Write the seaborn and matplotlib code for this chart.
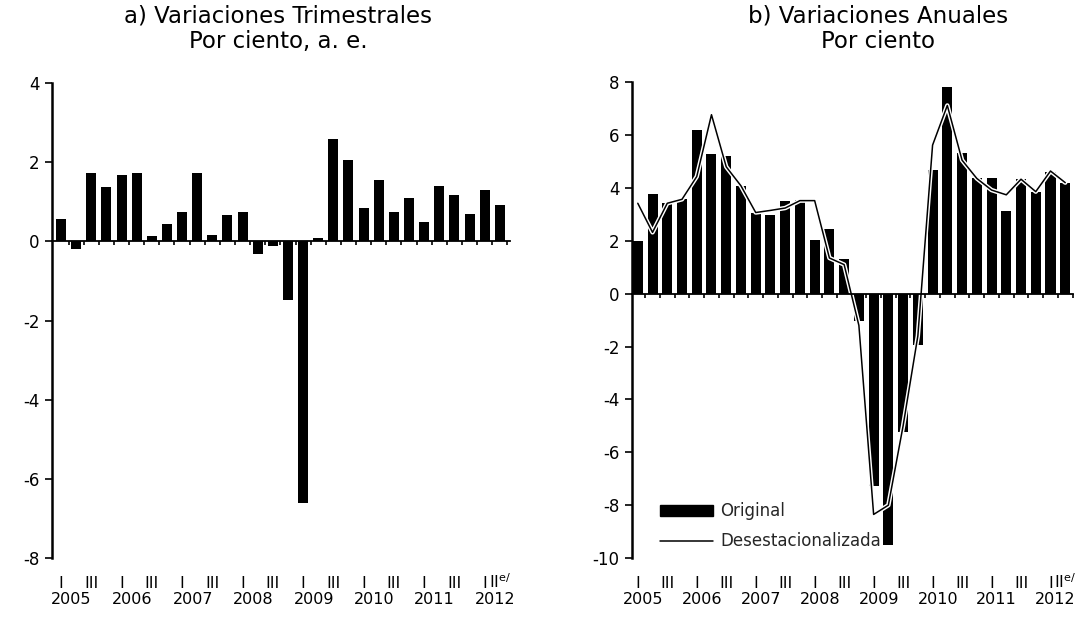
import numpy as np
import matplotlib
matplotlib.use("Agg")
import matplotlib.pyplot as plt
import matplotlib.patheffects as pe
from matplotlib.patches import Patch
from matplotlib.lines import Line2D
import seaborn as sns

sns.set_theme(style="white")
plt.rcParams["font.family"] = ["DejaVu Sans"]

# ---------------- data ----------------
years = [2005, 2006, 2007, 2008, 2009, 2010, 2011, 2012]
quarter_roman = ["I", "", "III", ""] * 7 + ["I", "II$^{\\mathrm{e/}}$"]

# a) quarterly change, s.a. (%)
trimestral = [0.57, -0.18, 1.73, 1.37, 1.68, 1.73, 0.13, 0.43, 0.73, 1.73,
              0.17, 0.67, 0.73, -0.33, -0.11, -1.49, -6.62, 0.08, 2.59, 2.06,
              0.84, 1.54, 0.74, 1.09, 0.49, 1.39, 1.18, 0.68, 1.29, 0.93]

# b) annual change (%)
anual_original = [1.98, 3.77, 3.42, 3.57, 6.18, 5.27, 5.20, 4.08, 3.05, 2.96,
                  3.49, 3.55, 2.04, 2.45, 1.32, -1.02, -7.28, -9.50, -5.25, -1.94,
                  4.68, 7.81, 5.34, 4.39, 4.39, 3.13, 4.33, 3.86, 4.61, 4.20]
anual_desest = [3.42, 2.32, 3.42, 3.57, 4.43, 6.77, 4.80, 4.08, 3.07, 3.15,
                3.24, 3.52, 3.52, 1.35, 1.10, -1.20, -8.35, -8.00, -5.00, -1.60,
                5.62, 7.12, 5.05, 4.36, 3.92, 3.74, 4.33, 3.86, 4.64, 4.20]

titles = ["a) Variaciones Trimestrales\nPor ciento, a. e.",
          "b) Variaciones Anuales\nPor ciento"]
legend_labels = ["Original", "Desestacionalizada"]

n = len(trimestral)
idx = np.arange(n)

fig = plt.figure(figsize=(10.82, 6.18), dpi=100)
ax1 = fig.add_axes([0.048, 0.097, 0.423, 0.7686])
ax2 = fig.add_axes([0.584, 0.097, 0.408, 0.770])

sns.barplot(x=idx, y=trimestral, native_scale=True, color="black", saturation=1,
            width=0.66, linewidth=0, errorbar=None, ax=ax1)
sns.barplot(x=idx, y=anual_original, native_scale=True, color="black", saturation=1,
            width=0.68, linewidth=0, errorbar=None, ax=ax2)
sns.lineplot(x=idx, y=anual_desest, color="black", linewidth=1.1, ax=ax2,
             path_effects=[pe.Stroke(linewidth=3.2, foreground="white"), pe.Normal()])


def style(ax, ylim, yticks, xlim, year_off):
    ax.set_ylim(*ylim)
    ax.set_yticks(yticks)
    ax.set_yticklabels([str(t) for t in yticks])
    ax.set_xlim(*xlim)
    ax.set_xlabel("")
    ax.set_ylabel("")
    ax.grid(False)
    for s in ["top", "right"]:
        ax.spines[s].set_visible(False)
    ax.spines["left"].set_linewidth(1.8)
    ax.spines["left"].set_color("black")
    ax.spines["bottom"].set_position(("data", 0))
    ax.spines["bottom"].set_linewidth(1.3)
    ax.spines["bottom"].set_color("black")
    ax.set_xticks([])
    ax.set_xticks(np.arange(-0.5, n, 1.0)[1:], minor=True)
    ax.tick_params(axis="x", which="minor", bottom=True, direction="out",
                   length=3, width=1.2, color="black")
    ax.tick_params(axis="y", left=True, direction="out", length=5, width=1.2,
                   color="black", labelsize=12, labelcolor="black", pad=4)
    # roman numeral row (baseline-aligned so the superscript does not push it down)
    sec = ax.secondary_xaxis(-0.062)
    pos = [i for i, q in enumerate(quarter_roman) if q]
    sec.set_xticks(pos, [quarter_roman[i] for i in pos])
    sec.tick_params(length=0, pad=0, labelsize=11.5, labelcolor="black")
    sec.spines["bottom"].set_visible(False)
    for lab in sec.get_xticklabels():
        lab.set_verticalalignment("baseline")
    # year row
    sec2 = ax.secondary_xaxis(-0.072)
    ypos = [4 * k + year_off for k in range(len(years))]
    sec2.set_xticks(ypos, [str(y) for y in years])
    sec2.tick_params(length=0, pad=0, labelsize=11.5, labelcolor="black")
    sec2.spines["bottom"].set_visible(False)


style(ax1, (-8, 4), list(range(-8, 5, 2)), (-0.6, 29.65), 0.7)
style(ax2, (-10, 8), list(range(-10, 9, 2)), (-0.4, 29.55), 0.35)

fig.text(0.257, 0.923, titles[0], ha="center", va="baseline", fontsize=16.5,
         linespacing=1.1, color="black")
fig.text(0.8115, 0.923, titles[1], ha="center", va="baseline", fontsize=16.5,
         linespacing=1.1, color="black")

handles = [Patch(facecolor="black", edgecolor="black"),
           Line2D([0], [0], color="black", linewidth=1.1)]
ax2.legend(handles, legend_labels, loc="upper left", bbox_to_anchor=(0.063, 0.117),
           frameon=False, fontsize=12, handlelength=3.2, handleheight=0.6,
           handletextpad=0.45, labelspacing=0.72, borderpad=0, borderaxespad=0)

fig.savefig("out.png", dpi=100, facecolor="white")
